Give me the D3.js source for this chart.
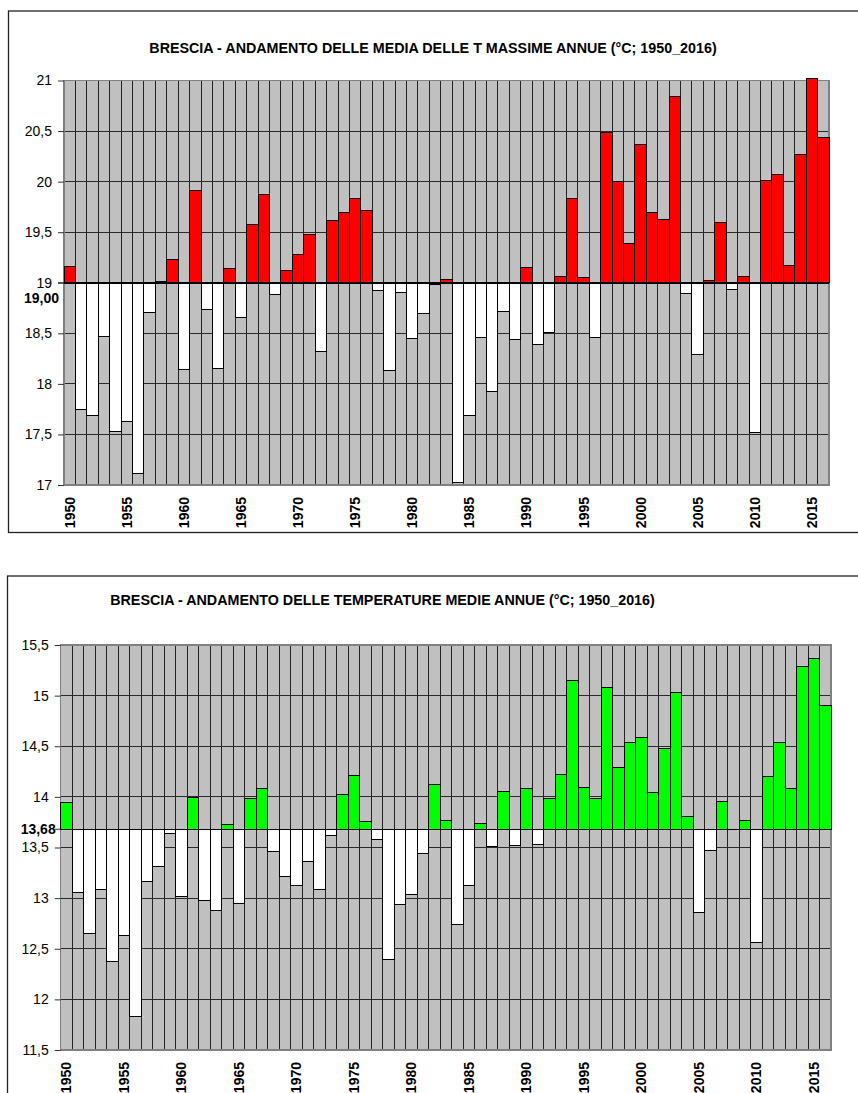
<!DOCTYPE html>
<html>
<head>
<meta charset="utf-8">
<script src="https://cdn.jsdelivr.net/npm/d3@7"></script>
<style>
  html, body { margin: 0; padding: 0; background: #fff; }
  svg { display: block; }
  text { font-family: "Liberation Sans", Arial, sans-serif; fill: #000; }
</style>
</head>
<body>
<svg id="chart" width="858" height="1093"></svg>
<script>
// ---------- DATA ----------
const years = [1950,1951,1952,1953,1954,1955,1956,1957,1958,1959,
  1960,1961,1962,1963,1964,1965,1966,1967,1968,1969,
  1970,1971,1972,1973,1974,1975,1976,1977,1978,1979,
  1980,1981,1982,1983,1984,1985,1986,1987,1988,1989,
  1990,1991,1992,1993,1994,1995,1996,1997,1998,1999,
  2000,2001,2002,2003,2004,2005,2006,2007,2008,2009,
  2010,2011,2012,2013,2014,2015,2016];

const tMaxValues = [19.16,17.75,17.69,18.47,17.53,17.63,17.11,18.71,19.01,19.23,
  18.14,19.91,18.74,18.15,19.14,18.66,19.58,19.87,18.88,19.12,
  19.28,19.48,18.32,19.62,19.69,19.83,19.71,18.92,18.13,18.90,
  18.45,18.70,18.98,19.03,17.02,17.69,18.46,17.92,18.72,18.44,
  19.15,18.39,18.51,19.06,19.83,19.05,18.46,20.49,20.00,19.39,
  20.37,19.69,19.63,20.84,18.89,18.29,19.02,19.60,18.93,19.06,
  17.52,20.01,20.07,19.17,20.27,21.02,20.44];

const tMeanValues = [13.94,13.06,12.65,13.09,12.37,12.63,11.83,13.16,13.31,13.64,
  13.02,13.99,12.98,12.88,13.73,12.95,13.98,14.08,13.46,13.21,
  13.12,13.36,13.09,13.62,14.02,14.21,13.76,13.58,12.39,12.94,
  13.04,13.44,14.12,13.77,12.74,13.12,13.74,13.51,14.05,13.52,
  14.08,13.53,13.98,14.22,15.15,14.09,13.98,15.08,14.29,14.54,
  14.59,14.04,14.48,15.03,13.81,12.86,13.47,13.95,13.68,13.77,
  12.56,14.20,14.54,14.08,15.29,15.37,14.90];

const tMaxBase = 19.00;
const tMeanBase = 13.68;

const xTickLabels = ["1950","1955","1960","1965","1970","1975","1980","1985","1990","1995","2000","2005","2010","2015"];
const tMaxTicks = [17,17.5,18,18.5,19,19.5,20,20.5,21];
const tMeanTicks = [11.5,12,12.5,13,13.5,14,14.5,15,15.5];

const tMaxTitle = "BRESCIA - ANDAMENTO DELLE MEDIA DELLE T MASSIME ANNUE (°C; 1950_2016)";
const tMeanTitle = "BRESCIA - ANDAMENTO DELLE TEMPERATURE MEDIE ANNUE (°C; 1950_2016)";

// ---------- DRAWING ----------
const svg = d3.select("#chart");
const itLocale = d3.formatLocale({decimal: ",", thousands: ".", grouping: [3], currency: ["", "€"]});
const fmtTick = v => itLocale.format("~g")(v);
const fmtBase = itLocale.format(".2f");

function drawChart(cfg) {
  const g = svg.append("g");

  // outer frame
  g.append("rect")
    .attr("x", cfg.frame.x).attr("y", cfg.frame.y)
    .attr("width", cfg.frame.w).attr("height", cfg.frame.h)
    .attr("fill", "#fff").attr("stroke", "#222").attr("stroke-width", 1.3);

  // title
  g.append("text")
    .attr("x", cfg.titleX).attr("y", cfg.titleY)
    .attr("text-anchor", "middle")
    .attr("font-size", 14.3).attr("font-weight", "bold")
    .text(cfg.title);

  const x = d3.scaleBand().domain(years).range([cfg.left, cfg.right]).padding(0);
  const y = d3.scaleLinear().domain(cfg.domain).range([cfg.bottom, cfg.top]);

  // grey background columns
  g.append("g").selectAll("rect").data(years).join("rect")
    .attr("x", d => x(d)).attr("y", cfg.top)
    .attr("width", x.bandwidth()).attr("height", cfg.bottom - cfg.top)
    .attr("fill", "#C0C0C0").attr("stroke", "#222").attr("stroke-width", 1)
    .attr("shape-rendering", "crispEdges");

  // horizontal gridlines
  g.append("g").selectAll("line").data(cfg.ticks).join("line")
    .attr("x1", cfg.left).attr("x2", cfg.right)
    .attr("y1", d => y(d)).attr("y2", d => y(d))
    .attr("stroke", "#2a2a2a").attr("stroke-width", 1)
    .attr("shape-rendering", "crispEdges");

  // plot border
  g.append("rect")
    .attr("x", cfg.left).attr("y", cfg.top)
    .attr("width", cfg.right - cfg.left).attr("height", cfg.bottom - cfg.top)
    .attr("fill", "none").attr("stroke", "#808080").attr("stroke-width", 1.5)
    .attr("shape-rendering", "crispEdges");

  // value bars
  g.append("g").selectAll("rect").data(cfg.values.map((v, i) => ({year: years[i], v}))).join("rect")
    .attr("x", d => x(d.year)).attr("width", x.bandwidth())
    .attr("y", d => Math.min(y(d.v), y(cfg.base)))
    .attr("height", d => Math.abs(y(d.v) - y(cfg.base)))
    .attr("fill", d => d.v >= cfg.base ? cfg.color : "#FFFFFF")
    .attr("stroke", "#000").attr("stroke-width", 1)
    .attr("shape-rendering", "crispEdges");

  // baseline
  g.append("line")
    .attr("x1", cfg.left).attr("x2", cfg.right)
    .attr("y1", y(cfg.base)).attr("y2", y(cfg.base))
    .attr("stroke", "#000").attr("stroke-width", 1.5)
    .attr("shape-rendering", "crispEdges");

  // y axis ticks & labels
  const yAxis = d3.axisLeft(y).tickValues(cfg.ticks).tickFormat(fmtTick).tickSize(6).tickPadding(6);
  const ya = g.append("g").attr("transform", `translate(${cfg.left},0)`).call(yAxis);
  ya.select(".domain").remove();
  ya.selectAll(".tick line").attr("stroke", "#333");
  ya.selectAll(".tick text").attr("font-size", 14).attr("font-family", "Liberation Sans, Arial, sans-serif").attr("fill", "#111");

  // bold base label
  g.append("text")
    .attr("x", cfg.left - 5).attr("y", y(cfg.base) + cfg.baseLabelDy)
    .attr("text-anchor", "end").attr("dy", "0.35em")
    .attr("font-size", 14).attr("font-weight", "bold")
    .text(fmtBase(cfg.base));
  g.append("line")
    .attr("x1", cfg.left - 6).attr("x2", cfg.left)
    .attr("y1", y(cfg.base)).attr("y2", y(cfg.base))
    .attr("stroke", "#333");

  // x labels (rotated)
  const xAxis = d3.axisBottom(x).tickValues(xTickLabels.map(Number)).tickSize(0).tickPadding(0);
  const xa = g.append("g").attr("transform", `translate(0,${cfg.bottom})`).call(xAxis);
  xa.select(".domain").remove();
  xa.selectAll(".tick text")
    .attr("transform", "rotate(-90)")
    .attr("x", -cfg.xLabelGap).attr("y", 0).attr("dy", "0.36em")
    .attr("text-anchor", "end")
    .attr("font-size", 14).attr("font-weight", "bold")
    .attr("font-family", "Liberation Sans, Arial, sans-serif").attr("fill", "#000");
}

drawChart({
  frame: {x: 8.5, y: 11, w: 870, h: 521.5},
  title: tMaxTitle, titleX: 433, titleY: 52.5,
  left: 64, right: 829, top: 80.5, bottom: 485,
  domain: [17, 21], ticks: tMaxTicks, base: tMaxBase, baseLabelDy: 15,
  values: tMaxValues, color: "#FF0000", xLabelGap: 12
});

drawChart({
  frame: {x: 7.5, y: 576, w: 870, h: 540},
  title: tMeanTitle, titleX: 382.5, titleY: 605,
  left: 60.7, right: 831, top: 645, bottom: 1050,
  domain: [11.5, 15.5], ticks: tMeanTicks, base: tMeanBase, baseLabelDy: 0,
  values: tMeanValues, color: "#00FF00", xLabelGap: 12
});
</script>
</body>
</html>
